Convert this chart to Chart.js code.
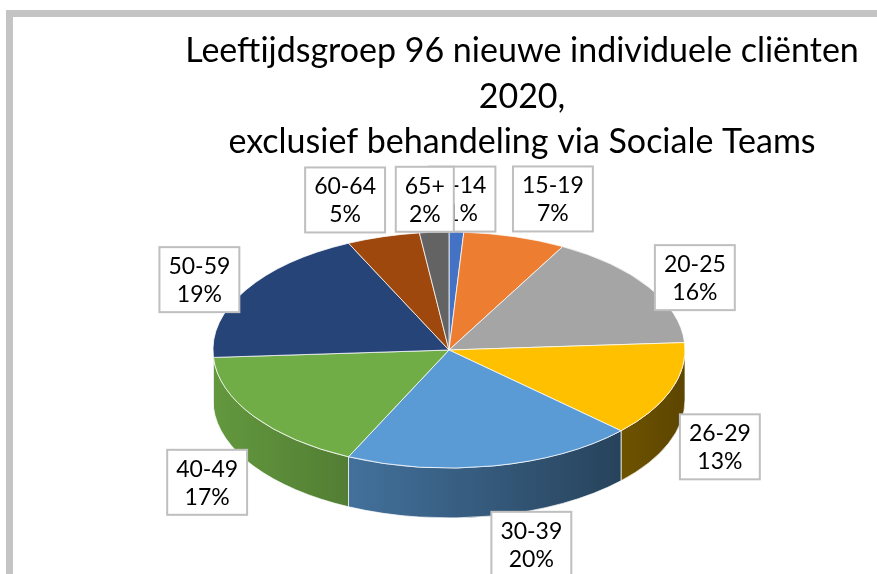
<!DOCTYPE html>
<html>
<head>
<meta charset="utf-8">
<script src="https://cdn.jsdelivr.net/npm/chart.js@4/dist/chart.umd.min.js"></script>
<style>
	html, body { margin: 0; padding: 0; background: #fff; }
	#frame { position: absolute; left: 6px; top: 10px; width: 900px; height: 600px; border: 7px solid #c4c4c4; box-sizing: border-box; }
	#wrap { position: absolute; left: 0; top: 0; width: 877px; height: 574px; }
</style>
</head>
<body>
<div id="frame"></div>
<div id="wrap"><canvas id="myChart" width="877" height="574"></canvas></div>
<script>
const ageGroups = ['0-14', '15-19', '20-25', '26-29', '30-39', '40-49', '50-59', '60-64', '65+'];
const percentages = [1, 7, 16, 13, 20, 17, 19, 5, 2];
const sliceColors = ['#4472C4', '#ED7D31', '#A5A5A5', '#FFC000', '#5B9BD5', '#70AD47', '#264478', '#9E480E', '#636363'];
const titleLines = ['Leeftijdsgroep 96 nieuwe individuele cliënten', '2020,', 'exclusief behandeling via Sociale Teams'];

// layout tweaks for the data label boxes (dx, dy)
const labelShift = [[4, -1], [23, -7], [1, 8], [-2, -4], [28, -3], [-2, -2], [0, 6], [-23, -6], [-6, -1]];

const TILT = 0.5;
const DEPTH = 50;
const FONT = 'Lato, "Open Sans", sans-serif';

const shade = (hex, f) => {
	const n = parseInt(hex.slice(1), 16);
	const r = Math.round(((n >> 16) & 255) * f);
	const g = Math.round(((n >> 8) & 255) * f);
	const b = Math.round((n & 255) * f);
	return `rgb(${r},${g},${b})`;
};

// squash the pie into an ellipse and draw the side wall under it
const pie3d = {
	id: 'pie3d',
	beforeDatasetsDraw(chart) {
		const ctx = chart.ctx;
		const arcs = chart.getDatasetMeta(0).data;
		const { x: cx, y: cy, outerRadius: r } = arcs[0];
		arcs.forEach((arc, i) => {
			const a = Math.max(arc.startAngle, 0);
			const b = Math.min(arc.endAngle, Math.PI);
			if (b <= a) return;
			const grad = ctx.createLinearGradient(cx - r, 0, cx + r, 0);
			grad.addColorStop(0, shade(sliceColors[i], 0.88));
			grad.addColorStop(1, shade(sliceColors[i], 0.36));
			ctx.beginPath();
			ctx.ellipse(cx, cy, r, r * TILT, 0, a, b);
			ctx.ellipse(cx, cy + DEPTH, r, r * TILT, 0, b, a, true);
			ctx.closePath();
			ctx.fillStyle = grad;
			ctx.fill();
			ctx.strokeStyle = 'rgba(255,255,255,0.7)';
			ctx.lineWidth = 1;
			ctx.stroke();
		});
		ctx.save();
		ctx.translate(cx, cy);
		ctx.scale(1, TILT);
		ctx.translate(-cx, -cy);
	},
	afterDatasetsDraw(chart) {
		chart.ctx.restore();
	},
	afterDraw(chart) {
		const ctx = chart.ctx;
		const arcs = chart.getDatasetMeta(0).data;
		const { x: cx, y: cy } = arcs[0];

		ctx.save();
		ctx.fillStyle = '#000';
		ctx.textAlign = 'center';
		ctx.textBaseline = 'alphabetic';
		ctx.font = `34px ${FONT}`;
		titleLines.forEach((line, i) => ctx.fillText(line, 522, 62 + i * 45.5));

		ctx.font = `23px ${FONT}`;
		ctx.textBaseline = 'middle';
		arcs.forEach((arc, i) => {
			const m = (arc.startAngle + arc.endAngle) / 2;
			const s = Math.sin(m);
			const x = cx + 290 * Math.cos(m) + labelShift[i][0];
			const y = cy + 150 * s + (s > 0 ? DEPTH : 0) + labelShift[i][1];
			const lines = [ageGroups[i], `${percentages[i]}%`];
			const w = Math.max(...lines.map((t) => ctx.measureText(t).width)) + 18;
			const h = 65;
			ctx.fillStyle = '#fff';
			ctx.fillRect(x - w / 2, y - h / 2, w, h);
			ctx.strokeStyle = '#bfbfbf';
			ctx.lineWidth = 2;
			ctx.strokeRect(x - w / 2, y - h / 2, w, h);
			ctx.fillStyle = '#000';
			ctx.fillText(lines[0], x, y - 13);
			ctx.fillText(lines[1], x, y + 15);
		});
		ctx.restore();
	},
};

const ctx = document.getElementById('myChart').getContext('2d');
const myChart = new Chart(ctx, {
	type: 'pie',
	data: {
		labels: ageGroups,
		datasets: [
			{
				data: percentages,
				backgroundColor: sliceColors,
				borderColor: '#ffffff',
				borderWidth: 1,
				radius: 236,
				clip: false,
			},
		],
	},
	options: {
		responsive: false,
		animation: false,
		layout: {
			padding: { left: 213, right: 192, top: 250, bottom: 124 },
		},
		plugins: {
			legend: { display: false },
			tooltip: { enabled: false },
			title: { display: false },
		},
	},
	plugins: [pie3d],
});
</script>
</body>
</html>
